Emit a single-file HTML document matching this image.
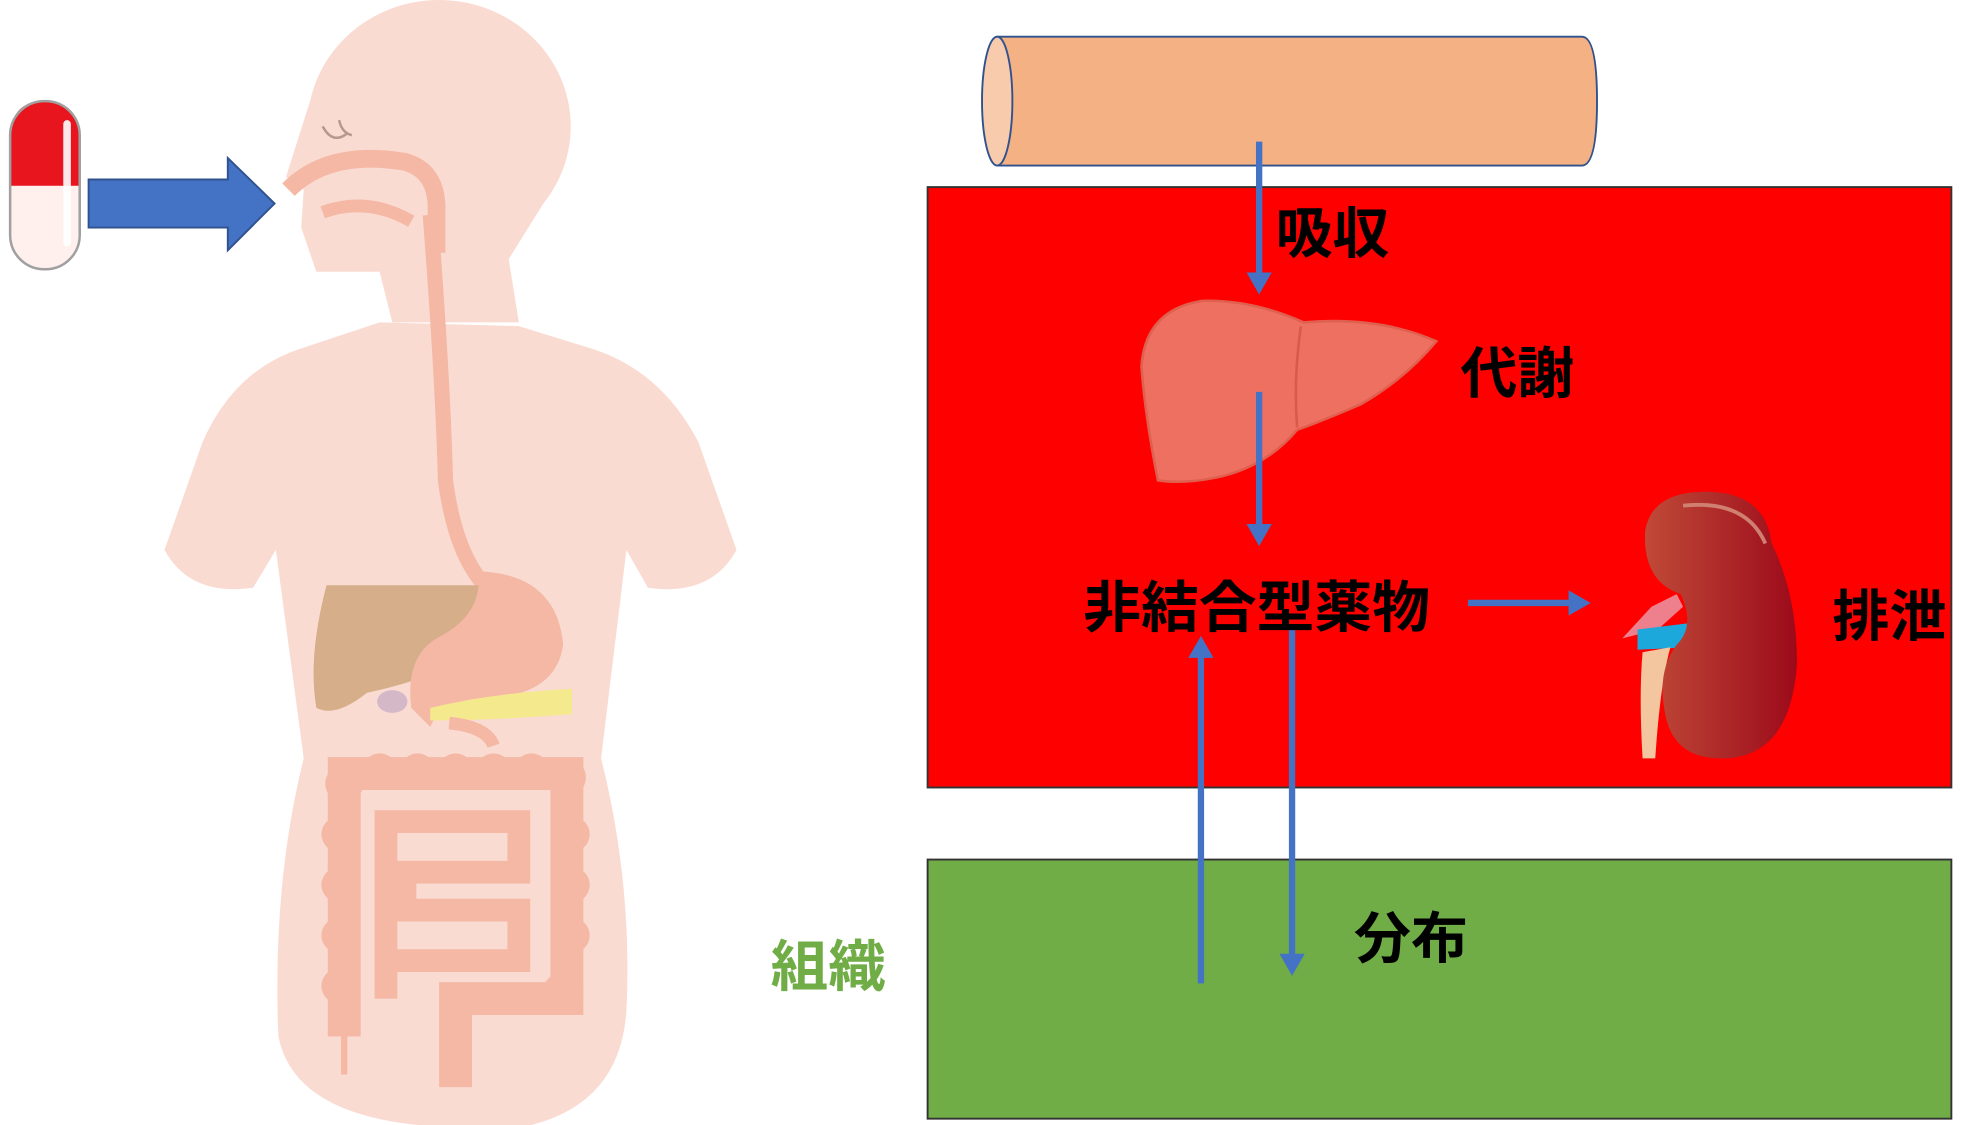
<!DOCTYPE html>
<html><head><meta charset="utf-8"><style>
html,body{margin:0;padding:0;background:#fff;width:1983px;height:1125px;overflow:hidden}
svg{display:block}
text{font-family:"Liberation Sans","Noto Sans CJK JP",sans-serif;font-weight:bold}
</style></head><body>
<svg width="1983" height="1125" viewBox="0 0 1567 890" preserveAspectRatio="none" xmlns="http://www.w3.org/2000/svg">
<defs>
<linearGradient id="kg" x1="0" x2="1"><stop offset="0" stop-color="#c04a38"/><stop offset="1" stop-color="#9c0a1a"/></linearGradient>
<marker id="ah" markerWidth="4" markerHeight="4" refX="2.5" refY="2" orient="auto" markerUnits="strokeWidth"><path d="M0,0 L3.5,2 L0,4 z" fill="#4472c4"/></marker>
</defs>
<g fill="#fadbd2">
<ellipse cx="347" cy="100" rx="104" ry="100"/>
<path d="M245 80 L226 140 L240 150 L238 180 L250 215 L300 215 L310 255 L410 255 L402 205 L430 160 L300 60 Z"/>
<path d="M300 255 L240 275 Q185 292 160 350 L130 435 Q150 472 200 465 L218 435 L240 600 Q215 700 220 820 Q232 880 330 890 L420 890 Q490 872 495 800 Q500 700 475 600 L495 435 L512 465 Q562 472 582 435 L552 350 Q522 292 465 275 L410 258 Z"/>
</g>
<path d="M255 100 q8 15 20 5 M268 95 q2 10 10 12" stroke="#b79890" stroke-width="2" fill="none"/>
<path d="M228 150 Q260 118 320 128 Q345 135 345 165 L345 200" stroke="#f4b8a5" stroke-width="14" fill="none"/>
<path d="M255 168 Q290 155 325 175" stroke="#f4b8a5" stroke-width="10" fill="none"/>
<path d="M340 170 Q350 300 352 380 Q360 440 385 465" stroke="#f4b8a5" stroke-width="12" fill="none"/>
<path d="M258 463 L380 463 L375 520 Q330 540 290 548 Q265 568 250 560 Q243 520 258 463 Z" fill="#d6ae8a"/>
<path d="M380 452 Q440 455 445 510 Q440 548 390 552 Q350 552 340 575 L325 560 Q320 520 345 505 Q375 490 378 465 Z" fill="#f4b8a5"/>
<ellipse cx="310" cy="555" rx="12" ry="9" fill="#d4b8c8"/>
<path d="M340 560 Q390 548 452 545 L452 565 Q390 570 340 570 Z" fill="#f5e98e"/>
<path d="M355 572 Q385 575 390 590" stroke="#f4b8a5" stroke-width="10" fill="none"/>
<path d="M272 820 L272 612 L448 612 L448 790 L360 790 L360 860" stroke="#f4b8a5" stroke-width="26" fill="none"/>
<g fill="#f4b8a5">
<circle cx="272" cy="620" r="15"/><circle cx="300" cy="610" r="14"/><circle cx="330" cy="610" r="14"/><circle cx="360" cy="610" r="14"/><circle cx="390" cy="610" r="14"/><circle cx="420" cy="610" r="14"/><circle cx="448" cy="615" r="15"/>
<circle cx="268" cy="660" r="14"/><circle cx="268" cy="700" r="14"/><circle cx="268" cy="740" r="14"/><circle cx="268" cy="780" r="14"/>
<circle cx="452" cy="660" r="14"/><circle cx="452" cy="700" r="14"/><circle cx="452" cy="740" r="14"/><circle cx="445" cy="785" r="16"/>
</g>
<path d="M305 790 L305 650 L410 650 L410 690 L320 690 L320 720 L410 720 L410 760 L310 760" stroke="#f4b8a5" stroke-width="18" fill="none"/>
<path d="M272 820 L272 850" stroke="#f4b8a5" stroke-width="5"/>
<path d="M8 147 L8 110 Q8 80 35 80 Q63 80 63 110 L63 147 Z" fill="#e8141e"/>
<path d="M8 147 L63 147 L63 183 Q63 213 35 213 Q8 213 8 183 Z" fill="#fff0ee"/>
<rect x="8" y="80" width="55" height="133" rx="27" fill="none" stroke="#a0a0a0" stroke-width="2"/>
<rect x="50" y="95" width="6" height="100" rx="3" fill="#fff" opacity="0.9"/>
<path d="M70 142 L180 142 L180 125 L217 161 L180 198 L180 180 L70 180 Z" fill="#4472c4" stroke="#2f528f" stroke-width="1.5"/>
<path d="M788 29 L1250 29 Q1262 29 1262 80 Q1262 131 1250 131 L788 131 Z" fill="#f4b183" stroke="#2f528f" stroke-width="1.5"/>
<ellipse cx="788" cy="80" rx="12" ry="51" fill="#f8cbad" stroke="#2f528f" stroke-width="1.5"/>
<rect x="733" y="148" width="809" height="475" fill="#ff0000" stroke="#333" stroke-width="1.5"/>
<rect x="733" y="680" width="809" height="205" fill="#70ad47" stroke="#333" stroke-width="1.5"/>
<path d="M915 380 Q905 330 902 290 Q905 245 950 238 Q990 237 1030 255 Q1090 250 1135 270 Q1110 300 1075 320 Q1040 335 1025 340 Q1000 370 960 378 Q935 383 915 380 Z" fill="#ee7060" stroke="#e06050" stroke-width="2"/>
<path d="M1028 258 Q1022 300 1025 338" stroke="#d85a4a" stroke-width="2" fill="none"/>
<path d="M1282 505 L1305 480 L1325 470 L1330 480 L1310 498 Z" fill="#ee7f8c"/>
<path d="M1294 498 L1335 493 L1335 512 L1294 514 Z" fill="#1da8dc"/>
<path d="M1298 516 L1320 512 Q1312 540 1308 600 L1298 600 Q1295 550 1298 516 Z" fill="#f3c6a0"/>
<path d="M1345 389 Q1395 388 1400 430 Q1420 470 1420 525 Q1415 600 1360 600 Q1320 600 1315 560 Q1310 530 1325 510 Q1340 495 1328 470 Q1298 460 1300 420 Q1305 390 1345 389 Z" fill="url(#kg)"/>
<path d="M1330 400 Q1380 395 1395 430" stroke="#d08070" stroke-width="3" fill="none"/>
<g stroke="#4472c4" stroke-width="5" fill="none">
<line x1="995" y1="112" x2="995" y2="228" marker-end="url(#ah)"/>
<line x1="995" y1="310" x2="995" y2="427" marker-end="url(#ah)"/>
<line x1="1160" y1="477" x2="1252" y2="477" marker-end="url(#ah)"/>
<line x1="949" y1="778" x2="949" y2="508" marker-end="url(#ah)"/>
<line x1="1021" y1="497" x2="1021" y2="767" marker-end="url(#ah)"/>
</g>
<g font-size="44" fill="#000">
<text x="1008" y="200" textLength="90" lengthAdjust="spacingAndGlyphs">吸収</text>
<text x="1154" y="311" textLength="90" lengthAdjust="spacingAndGlyphs">代謝</text>
<text x="856" y="496" textLength="274" lengthAdjust="spacingAndGlyphs">非結合型薬物</text>
<text x="1448" y="503" textLength="90" lengthAdjust="spacingAndGlyphs">排泄</text>
<text x="1070" y="758" textLength="90" lengthAdjust="spacingAndGlyphs">分布</text>
<text x="609" y="780" fill="#70ad47" textLength="91" lengthAdjust="spacingAndGlyphs">組織</text>
</g>
</svg>
</body></html>
